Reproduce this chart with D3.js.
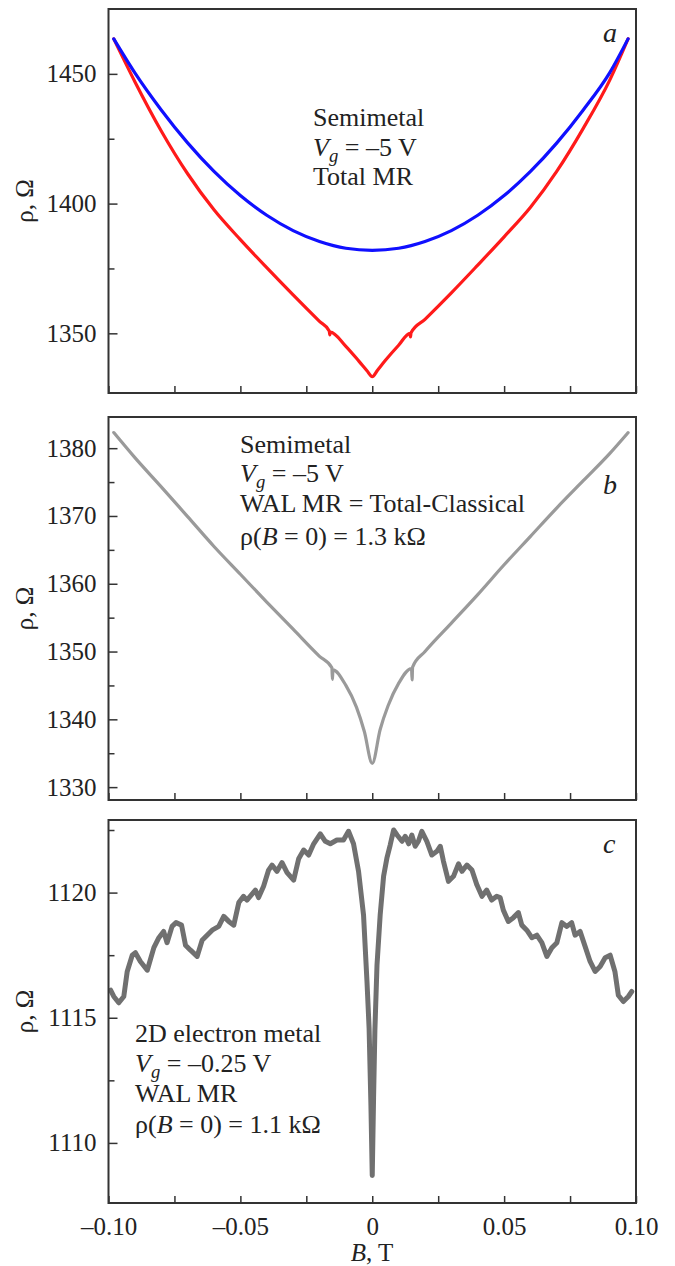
<!DOCTYPE html>
<html>
<head>
<meta charset="utf-8">
<script src="https://cdn.jsdelivr.net/npm/d3@7"></script>
<style>
  body { margin: 0; background: #fff; }
  text { font-family: "Liberation Serif", "Times New Roman", serif; fill: #222; }
</style>
</head>
<body>
<div id="chart"></div>
<script>
// ---- data ----
const xDomain = [-0.1, 0.1];
const xTicks = [-0.1, -0.075, -0.05, -0.025, 0, 0.025, 0.05, 0.075, 0.1];
const xLabelTicks = [-0.1, -0.05, 0, 0.05, 0.1];
const xTickLabels = ['–0.10', '–0.05', '0', '0.05', '0.10'];

// panel a: total MR, red = measured, blue = classical
const aRedB = [-0.098, -0.09, -0.08, -0.07, -0.06, -0.05, -0.04, -0.03, -0.02, -0.0163, -0.0161, -0.0159, -0.01, -0.005, -0.002, 0,
  0.002, 0.005, 0.01, 0.0143, 0.0145, 0.0147, 0.02, 0.03, 0.04, 0.05, 0.06, 0.07, 0.08, 0.09, 0.097];
const aRed = [1463.5, 1447.0, 1428.0, 1411.5, 1397.6, 1386.1, 1375.3, 1364.8, 1354.6, 1350.9, 1349.4, 1350.5, 1345.0, 1339.2, 1335.6, 1333.3,
  1335.8, 1339.6, 1345.4, 1350.0, 1348.6, 1350.2, 1355.4, 1365.6, 1376.3, 1387.2, 1398.6, 1412.5, 1429.0, 1447.5, 1463.5];
const aBlueB = [-0.098, -0.09, -0.08, -0.07, -0.06, -0.05, -0.04, -0.03, -0.02, -0.01, 0, 0.01, 0.02, 0.03, 0.04, 0.05, 0.06, 0.07, 0.08, 0.09, 0.097];
const aBlue = [1463.5, 1450.4, 1436.1, 1423.4, 1412.4, 1403.1, 1395.5, 1389.6, 1385.4, 1382.8, 1382.0,
  1382.8, 1385.4, 1389.6, 1395.5, 1403.1, 1412.4, 1423.4, 1436.1, 1450.4, 1463.5];
const aYDomain = [1327, 1475];
const aYTicks = [1350, 1400, 1450];
const aYMinor = [1375, 1425];

// panel b: WAL MR = total - classical
const bB = [-0.098, -0.09, -0.08, -0.07, -0.06, -0.05, -0.04, -0.03, -0.02, -0.0153, -0.0151, -0.0149, -0.01, -0.006, -0.003, 0,
  0.003, 0.006, 0.01, 0.0149, 0.0151, 0.0153, 0.02, 0.03, 0.04, 0.05, 0.06, 0.07, 0.08, 0.09, 0.097];
const bRho = [1382.3, 1378.6, 1374.3, 1369.9, 1365.5, 1361.4, 1357.3, 1353.3, 1349.3, 1347.6, 1345.9, 1347.3, 1345.0, 1341.8, 1338.2, 1333.5,
  1338.5, 1342.0, 1345.3, 1347.5, 1345.8, 1347.7, 1350.0, 1354.2, 1358.4, 1362.8, 1367.0, 1371.2, 1375.2, 1379.2, 1382.3];
const bYDomain = [1328.1, 1384.6];
const bYTicks = [1330, 1340, 1350, 1360, 1370, 1380];
const bYMinor = [1335, 1345, 1355, 1365, 1375];

// panel c: 2D electron metal, WAL MR
const cB = [-0.0992, -0.0980, -0.0961, -0.0942, -0.0929, -0.0910, -0.0898, -0.0879, -0.0853, -0.0828, -0.0809, -0.0791, -0.0778,
  -0.0759, -0.0744, -0.0723, -0.0708, -0.0689, -0.0664, -0.0645, -0.0626, -0.0607, -0.0582, -0.0563, -0.0544, -0.0525, -0.0506,
  -0.0488, -0.0475, -0.0443, -0.0431, -0.0412, -0.0393, -0.0380, -0.0361, -0.0342, -0.0323, -0.0298, -0.0279, -0.0260, -0.0241,
  -0.0222, -0.0197, -0.0178, -0.0159, -0.0134, -0.0109, -0.0090, -0.0071, -0.0052, -0.0033, -0.0020, -0.0012, -0.0005, 0,
  0.0005, 0.0010, 0.0018, 0.0030, 0.0043, 0.0056, 0.0068, 0.0081, 0.0094, 0.0113, 0.0125, 0.0138, 0.0150, 0.0163, 0.0175, 0.0188,
  0.0207, 0.0226, 0.0245, 0.0258, 0.0270, 0.0289, 0.0308, 0.0327, 0.0340, 0.0359, 0.0378, 0.0397, 0.0416, 0.0434, 0.0453, 0.0472,
  0.0485, 0.0497, 0.0516, 0.0535, 0.0554, 0.0567, 0.0586, 0.0605, 0.0624, 0.0643, 0.0662, 0.0681, 0.0700, 0.0719, 0.0738, 0.0756,
  0.0769, 0.0788, 0.0807, 0.0826, 0.0845, 0.0864, 0.0883, 0.0902, 0.0920, 0.0933, 0.0952, 0.0971, 0.0984];
const cRho = [1116.1, 1115.85, 1115.6, 1115.85, 1116.85, 1117.5, 1117.6, 1117.25, 1116.9, 1117.8, 1118.2, 1118.45, 1118.0,
  1118.65, 1118.8, 1118.7, 1117.9, 1117.7, 1117.45, 1118.1, 1118.3, 1118.5, 1118.65, 1119.05, 1118.85, 1118.7, 1119.6,
  1119.85, 1119.7, 1120.1, 1119.8, 1120.25, 1120.9, 1121.1, 1120.85, 1121.2, 1120.8, 1120.5, 1121.35, 1121.7, 1121.5,
  1121.95, 1122.35, 1122.05, 1121.95, 1122.1, 1122.1, 1122.45, 1121.95, 1120.85, 1119.1, 1116.45, 1114.6, 1111.5, 1108.7,
  1111.8, 1114.5, 1117.1, 1119.1, 1120.65, 1121.4, 1121.9, 1122.5, 1122.3, 1122.05, 1122.25, 1121.95, 1122.3, 1121.85, 1122.05, 1122.45,
  1122.05, 1121.5, 1121.65, 1121.85, 1121.25, 1120.45, 1120.65, 1121.15, 1120.85, 1121.1, 1120.9, 1120.3, 1119.85, 1120.1, 1119.7, 1119.85,
  1119.8, 1119.3, 1118.85, 1119.0, 1119.2, 1118.7, 1118.5, 1118.2, 1118.3, 1118.0, 1117.45, 1117.8, 1118.0, 1118.8, 1118.65, 1118.8,
  1118.3, 1118.45, 1117.85, 1117.25, 1116.85, 1117.05, 1117.4, 1117.5, 1116.85, 1115.9, 1115.65, 1115.85, 1116.05];
const cYDomain = [1107.6, 1122.9];
const cYTicks = [1110, 1115, 1120];
const cYMinor = [1112.5, 1117.5, 1122.5];

// ---- layout ----
const W = 675, H = 1266;
const xLeft = 108.5, xRight = 636;
const font = '"Liberation Serif", "Times New Roman", serif';
const frameColor = '#333';

const svg = d3.select('#chart')
  .append('svg')
  .attr('width', W)
  .attr('height', H);

const x = d3.scaleLinear().domain(xDomain).range([xLeft, xRight]);

function styleAxis(g) {
  g.select('.domain').remove();
  g.selectAll('line').attr('stroke', frameColor).attr('stroke-width', 1.5);
  g.selectAll('text')
    .attr('font-family', font)
    .attr('font-size', 25)
    .attr('fill', '#222');
}

// lines: array of segment lists [text, kind] ; kind: '' normal, 'i' italic, 's' italic subscript
function writeNote(g, x0, baselines, lines, size) {
  lines.forEach((segs, k) => {
    const t = g.append('text')
      .attr('x', x0)
      .attr('y', baselines[k])
      .attr('font-size', size);
    let shifted = false;
    segs.forEach(s => {
      const ts = t.append('tspan').text(s[0]);
      if (s[1] === 'i') ts.attr('font-style', 'italic');
      if (s[1] === 's') {
        ts.attr('font-style', 'italic').attr('font-size', size * 0.72).attr('dy', 6);
        shifted = true;
      } else if (shifted) {
        ts.attr('dy', -6);
        shifted = false;
      }
    });
  });
}

function DrawPanel(p) {
  const y = d3.scaleLinear().domain(p.yDomain).range([p.bottom, p.top]);
  const g = svg.append('g');

  // y ticks (inside)
  g.append('g')
    .attr('transform', `translate(${xLeft},0)`)
    .call(d3.axisLeft(y).tickValues(p.yTicks).tickSize(-9).tickPadding(12).tickFormat(d3.format('d')))
    .call(styleAxis);
  g.append('g')
    .attr('transform', `translate(${xLeft},0)`)
    .call(d3.axisLeft(y).tickValues(p.yMinor).tickSize(-6).tickFormat(''))
    .call(styleAxis);

  // x ticks (inside, bottom)
  const xa = d3.axisBottom(x).tickValues(xTicks).tickSize(-7).tickPadding(14)
    .tickFormat(d => {
      if (!p.xLabels) return '';
      const i = xLabelTicks.findIndex(v => Math.abs(v - d) < 1e-9);
      return i < 0 ? '' : xTickLabels[i];
    });
  g.append('g')
    .attr('transform', `translate(0,${p.bottom})`)
    .call(xa)
    .call(styleAxis);

  // curves
  const clipId = 'clip' + p.name;
  svg.append('clipPath').attr('id', clipId)
    .append('rect')
    .attr('x', xLeft).attr('y', p.top)
    .attr('width', xRight - xLeft).attr('height', p.bottom - p.top);

  p.series.forEach(s => {
    g.append('path')
      .datum(d3.zip(s.b, s.rho))
      .attr('clip-path', `url(#${clipId})`)
      .attr('fill', 'none')
      .attr('stroke', s.color)
      .attr('stroke-width', s.width)
      .attr('stroke-linejoin', 'round')
      .attr('stroke-linecap', 'round')
      .attr('d', d3.line()
        .x(d => x(d[0]))
        .y(d => y(d[1]))
        .curve(s.curve));
  });

  // frame
  g.append('rect')
    .attr('x', xLeft).attr('y', p.top)
    .attr('width', xRight - xLeft).attr('height', p.bottom - p.top)
    .attr('fill', 'none')
    .attr('stroke', frameColor)
    .attr('stroke-width', 2);

  // y title
  g.append('text')
    .attr('transform', `translate(33,${(p.top + p.bottom) / 2}) rotate(-90)`)
    .attr('text-anchor', 'middle')
    .attr('font-size', 25)
    .text('ρ, Ω');

  // panel letter
  g.append('text')
    .attr('x', 603).attr('y', p.letterY)
    .attr('font-size', 28)
    .attr('font-style', 'italic')
    .text(p.name);

  writeNote(g, p.noteX, p.noteY, p.note, 26);
}

DrawPanel({
  name: 'a', top: 9, bottom: 393, yDomain: aYDomain, yTicks: aYTicks, yMinor: aYMinor, letterY: 42,
  series: [
    { b: aRedB, rho: aRed, color: '#ff1a1a', width: 3.2, curve: d3.curveMonotoneX },
    { b: aBlueB, rho: aBlue, color: '#1010ff', width: 3.2, curve: d3.curveMonotoneX }
  ],
  noteX: 313, noteY: [126, 156, 185],
  note: [
    [['Semimetal', '']],
    [['V', 'i'], ['g', 's'], [' = –5 V', '']],
    [['Total MR', '']]
  ]
});

DrawPanel({
  name: 'b', top: 417, bottom: 800, yDomain: bYDomain, yTicks: bYTicks, yMinor: bYMinor, letterY: 494,
  series: [
    { b: bB, rho: bRho, color: '#9a9a9a', width: 3.2, curve: d3.curveMonotoneX }
  ],
  noteX: 240, noteY: [453, 482, 512, 545],
  note: [
    [['Semimetal', '']],
    [['V', 'i'], ['g', 's'], [' = –5 V', '']],
    [['WAL MR = Total-Classical', '']],
    [['ρ(', ''], ['B', 'i'], [' = 0) = 1.3 kΩ', '']]
  ]
});

DrawPanel({
  name: 'c', top: 820, bottom: 1203, yDomain: cYDomain, yTicks: cYTicks, yMinor: cYMinor, letterY: 853, xLabels: true,
  series: [
    { b: cB, rho: cRho, color: '#707070', width: 5, curve: d3.curveLinear }
  ],
  noteX: 135, noteY: [1042, 1072, 1102, 1133],
  note: [
    [['2D electron metal', '']],
    [['V', 'i'], ['g', 's'], [' = –0.25 V', '']],
    [['WAL MR', '']],
    [['ρ(', ''], ['B', 'i'], [' = 0) = 1.1 kΩ', '']]
  ]
});

// x axis title
svg.append('text')
  .attr('x', 372).attr('y', 1261)
  .attr('text-anchor', 'middle')
  .attr('font-size', 25)
  .call(t => {
    t.append('tspan').attr('font-style', 'italic').text('B');
    t.append('tspan').text(', T');
  });
</script>
</body>
</html>
